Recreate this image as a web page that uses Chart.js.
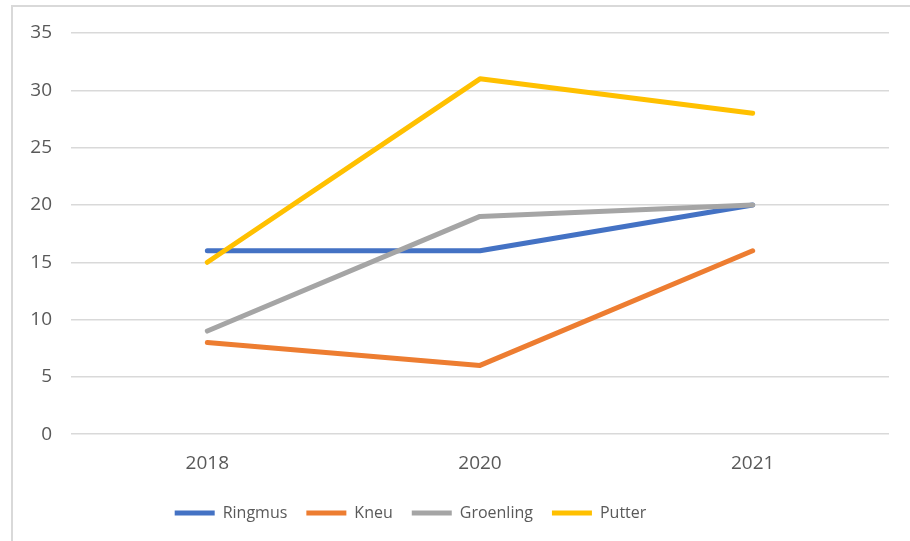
<!DOCTYPE html>
<html>
<head>
<meta charset="utf-8">
<script src="https://cdn.jsdelivr.net/npm/chart.js"></script>
<style>
  html, body { margin: 0; padding: 0; background: #fff; }
  .wrap { position: relative; width: 910px; height: 541px; overflow: hidden; }
  .frame { position: absolute; left: 11px; top: 5px; width: 920px; height: 560px; border-left: 2px solid #d9d9d9; border-top: 2px solid #d9d9d9; box-sizing: border-box; }
  canvas { position: absolute; left: 0; top: 0; }
</style>
</head>
<body>
<div class="wrap">
  <div class="frame"></div>
  <canvas id="chart" width="910" height="541"></canvas>
</div>
<script>
const years = ["2018", "2020", "2021"];
const ringmus = [16, 16, 20];
const kneu = [8, 6, 16];
const groenling = [9, 19, 20];
const putter = [15, 31, 28];

const TICK_FONT = { family: "'Open Sans', sans-serif", size: 19 };
const LEGEND_FONT = { family: "'Open Sans', sans-serif", size: 16 };

function line(label, data, color, order) {
  return {
    label, data, order,
    borderColor: color, backgroundColor: color,
    borderWidth: 5, pointRadius: 0, tension: 0,
    borderCapStyle: "round", borderJoinStyle: "round"
  };
}

// legend in the original sits a bit left of the middle
const shiftLegend = {
  id: "shiftLegend",
  afterLayout(chart) {
    chart.legend.left -= 34;
    chart.legend.right -= 34;
  }
};

new Chart(document.getElementById("chart"), {
  type: "line",
  data: {
    labels: years,
    datasets: [
      line("Ringmus", ringmus, "#4472C4", 4),
      line("Kneu", kneu, "#ED7D31", 3),
      line("Groenling", groenling, "#A5A5A5", 2),
      line("Putter", putter, "#FFC000", 1)
    ]
  },
  plugins: [shiftLegend],
  options: {
    responsive: false,
    animation: false,
    layout: { padding: { top: 33, right: 21, bottom: 10, left: 0 } },
    plugins: {
      tooltip: { enabled: false },
      legend: {
        position: "bottom",
        labels: {
          usePointStyle: true, pointStyle: "line", pointStyleWidth: 40,
          font: LEGEND_FONT, color: "#595959", padding: 19,
          sort: (a, b) => a.datasetIndex - b.datasetIndex
        }
      }
    },
    scales: {
      x: {
        offset: true,
        afterFit: s => { s.height -= 7; },
        grid: { display: false, drawTicks: false },
        border: { display: false },
        ticks: { font: TICK_FONT, color: "#595959", padding: 18 }
      },
      y: {
        min: 0, max: 35,
        afterFit: s => { s.width = 71; },
        grid: { color: "#d9d9d9", lineWidth: 1.5, drawTicks: false },
        border: { display: false },
        ticks: { stepSize: 5, font: TICK_FONT, color: "#595959", padding: 19 }
      }
    }
  }
});
</script>
</body>
</html>
